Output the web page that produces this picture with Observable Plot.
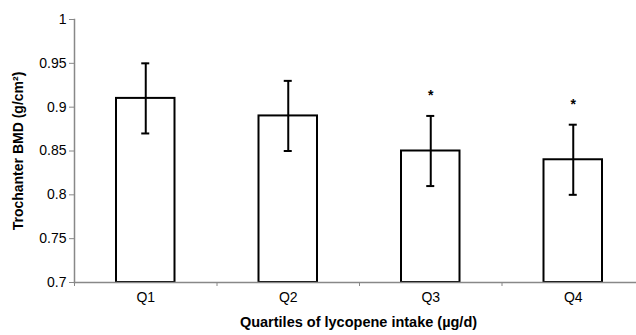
<!DOCTYPE html>
<html>
<head>
<meta charset="utf-8">
<script src="https://cdn.jsdelivr.net/npm/d3@7"></script>
<script src="https://cdn.jsdelivr.net/npm/@observablehq/plot@0.6"></script>
<style>
  html, body { margin: 0; padding: 0; background: #fff; overflow: hidden; }
  svg { display: block; }
</style>
</head>
<body>
<div id="chart"></div>
<script>
const categories = ["Q1", "Q2", "Q3", "Q4"];
const means = [0.91, 0.89, 0.85, 0.84];
const errors = [0.04, 0.04, 0.04, 0.04];
const significant = [false, false, true, true];
const yTicks = [0.7, 0.75, 0.8, 0.85, 0.9, 0.95, 1];
const yTitle = "Trochanter BMD (g/cm²)";
const xTitle = "Quartiles of lycopene intake (µg/d)";

const data = categories.map((c, i) => ({
  cat: c, i, mean: means[i], lo: means[i] - errors[i], hi: means[i] + errors[i], sig: significant[i]
}));

const chart = Plot.plot({
  width: 636,
  height: 335,
  marginLeft: 74,
  marginRight: -8,
  marginTop: 19,
  marginBottom: 53,
  style: { fontFamily: "'Liberation Sans', Arial, sans-serif", fontSize: "14px", color: "#000", background: "#fff" },
  x: { domain: [0, categories.length] },
  y: { domain: [0.7, 1] },
  marks: [
    Plot.rectY(data, { x1: "i", x2: d => d.i + 1, y1: 0.7, y2: "mean", fill: "#fff", stroke: "#000", strokeWidth: 2, insetLeft: 42, insetRight: 42 }),
    Plot.ruleX(data, { x: d => d.i + 0.5, y1: "lo", y2: "hi", stroke: "#000", strokeWidth: 2 }),
    Plot.ruleY(data, { x1: d => d.i + 0.5, x2: d => d.i + 0.5, y: "hi", stroke: "#000", strokeWidth: 2, insetLeft: -4, insetRight: -4 }),
    Plot.ruleY(data, { x1: d => d.i + 0.5, x2: d => d.i + 0.5, y: "lo", stroke: "#000", strokeWidth: 2, insetLeft: -4, insetRight: -4 }),
    Plot.text(data.filter(d => d.sig), { x: d => d.i + 0.5, y: "hi", text: () => "*", dy: -20, fontSize: 14, fontWeight: "bold" }),
    Plot.frame({ anchor: "left", stroke: "#888", strokeWidth: 1.5 }),
    Plot.frame({ anchor: "bottom", stroke: "#888", strokeWidth: 1.5 }),
    Plot.axisY({ ticks: yTicks, tickFormat: d => String(+d.toFixed(2)), tickSize: 5, tickPadding: 3, stroke: "#888", label: null }),
    Plot.axisX({ ticks: d3.range(0, categories.length + 1), tickSize: 4, tickFormat: () => "", stroke: "#888", label: null }),
    Plot.axisX({ ticks: categories.map((c, i) => i + 0.5), tickSize: 0, tickPadding: 10, tickFormat: d => categories[Math.floor(d)], label: null }),
    Plot.text([yTitle], { frameAnchor: "left", dx: -56, rotate: -90, text: d => d, textAnchor: "middle", fontWeight: "bold", fontSize: 14 }),
    Plot.text([xTitle], { frameAnchor: "bottom", dy: 44, dx: -1, text: d => d, textAnchor: "middle", fontWeight: "bold", fontSize: 14.5 })
  ]
});
document.getElementById("chart").appendChild(chart);
</script>
</body>
</html>
